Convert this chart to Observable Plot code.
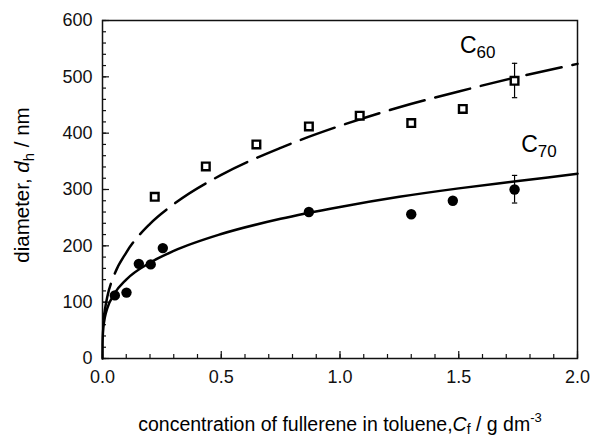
<!DOCTYPE html>
<html><head><meta charset="utf-8">
<script src="https://cdn.jsdelivr.net/npm/d3@7"></script>
<script src="https://cdn.jsdelivr.net/npm/@observablehq/plot@0.6"></script>
<style>body{margin:0;background:#fff} #chart svg{font-family:"Liberation Sans",Arial,sans-serif;}</style>
</head><body><div id="chart"></div>
<script>
// measured points
const c60X = [0.22, 0.435, 0.648, 0.869, 1.083, 1.30, 1.517, 1.735];
const c60Y = [287, 341, 380, 412, 431, 418, 443, 493];
const c70X = [0.052, 0.101, 0.153, 0.203, 0.254, 0.869, 1.30, 1.475, 1.735];
const c70Y = [112, 117, 168, 167, 196, 260, 256, 280, 300];
// error bars (at last point of each series)
const errX = [1.735, 1.735];
const errLo = [463, 276];
const errHi = [524, 325];
// fitted curves
const fit60X = [0.005, 0.01, 0.02, 0.05, 0.1, 0.2, 0.3, 0.5, 0.75, 1.0, 1.25, 1.5, 1.75, 2.0];
const fit60Y = [70, 86, 109, 149, 188, 239, 274, 326, 374, 413, 446, 474, 500, 523];
const fit70X = [0, 0.0002, 0.001, 0.004, 0.01, 0.02, 0.05, 0.1, 0.2, 0.3, 0.5, 0.75, 1.0, 1.25, 1.5, 1.75, 2.0];
const fit70Y = [0, 24, 38, 56, 73, 89, 115, 140, 170, 191, 221, 248, 269, 287, 302, 315, 328];
// ticks
const xMajor = [0, 0.5, 1.0, 1.5, 2.0];
const xMinor = d3.range(0, 2.0001, 0.1);
const yMajor = [0, 100, 200, 300, 400, 500, 600];
const yMinor = d3.range(0, 600.1, 20);
// series labels
const seriesNames = ["C", "C"];
const seriesSubs = ["60", "70"];
const labelX = [1.507, 1.765];
const labelY = [541, 366];

const pts60 = c60X.map((x, i) => ({x, y: c60Y[i]}));
const pts70 = c70X.map((x, i) => ({x, y: c70Y[i]}));
const line60 = fit60X.map((x, i) => ({x, y: fit60Y[i]}));
const line70 = fit70X.map((x, i) => ({x, y: fit70Y[i]}));
const errs = errX.map((x, i) => ({x, lo: errLo[i], hi: errHi[i]}));

const capSymbol = {draw(ctx, size) { const w = Math.sqrt(size) / 2; ctx.moveTo(-w, 0); ctx.lineTo(w, 0); }};

const plot = Plot.plot({
  width: 591, height: 437,
  marginLeft: 102, marginRight: 14, marginTop: 20, marginBottom: 79,
  style: {fontFamily: "Liberation Sans, Arial, sans-serif", fontSize: "18px", color: "#111", background: "#fff"},
  x: {domain: [0, 2], label: null},
  y: {domain: [0, 600], label: null},
  marks: [
    Plot.axisX({ticks: xMinor, tickSize: -4, tickFormat: () => "", strokeWidth: 1.2}),
    Plot.axisX({ticks: xMajor, tickSize: -7, tickFormat: () => "", strokeWidth: 1.2}),
    Plot.axisX({ticks: xMajor, tickSize: 0, tickPadding: 12, tickFormat: d3.format(".1f"), fontSize: 18}),
    Plot.axisY({ticks: yMinor, tickSize: -4, tickFormat: () => "", strokeWidth: 1.2}),
    Plot.axisY({ticks: yMajor, tickSize: 0, tickPadding: 10, tickFormat: d3.format("d"), fontSize: 18}),
    Plot.axisY({ticks: yMajor, tickSize: -7, tickFormat: () => "", strokeWidth: 1.2}),
    Plot.frame({stroke: "#111", strokeWidth: 1.5}),
    Plot.line(line60, {x: "x", y: "y", curve: "monotone-x", stroke: "#000", strokeWidth: 2.5, strokeDasharray: "36,11"}),
    Plot.line(line70, {x: "x", y: "y", curve: "monotone-x", stroke: "#000", strokeWidth: 2.5}),
    Plot.ruleX(errs, {x: "x", y1: "lo", y2: "hi", stroke: "#000", strokeWidth: 1.2}),
    Plot.dot(errs, {x: "x", y: "lo", symbol: capSymbol, r: 3, stroke: "#000", strokeWidth: 1.2}),
    Plot.dot(errs, {x: "x", y: "hi", symbol: capSymbol, r: 3, stroke: "#000", strokeWidth: 1.2}),
    Plot.dot(pts60, {x: "x", y: "y", symbol: "square", r: 4.3, stroke: "#000", strokeWidth: 2.4, fill: "#fff"}),
    Plot.dot(pts70, {x: "x", y: "y", symbol: "circle", r: 5.2, fill: "#000", stroke: "none"})
  ]
});
document.getElementById("chart").append(plot);

const svg = d3.select(plot);
const sx = plot.scale("x"), sy = plot.scale("y");

// series labels
seriesNames.forEach((n, i) => {
  const t = svg.append("text")
    .attr("x", sx.apply(labelX[i])).attr("y", sy.apply(labelY[i]))
    .attr("text-anchor", "start")
    .attr("font-size", 23).attr("fill", "#000");
  t.append("tspan").text(n);
  t.append("tspan").attr("dy", 5).attr("font-size", 17).text(seriesSubs[i]);
});

// y axis title
const yt = svg.append("text")
  .attr("transform", "translate(29,185) rotate(-90)")
  .attr("text-anchor", "middle").attr("font-size", 20.5).attr("fill", "#000");
yt.append("tspan").text("diameter, ");
yt.append("tspan").attr("font-style", "italic").text("d");
yt.append("tspan").attr("dy", 5).attr("font-size", 15).text("h");
yt.append("tspan").attr("dy", -5).text(" / nm");

// x axis title
const xt = svg.append("text")
  .attr("x", 340).attr("y", 431)
  .attr("text-anchor", "middle").attr("font-size", 19.5).attr("fill", "#000");
xt.append("tspan").text("concentration of fullerene in toluene,");
xt.append("tspan").attr("font-style", "italic").text("C");
xt.append("tspan").attr("dy", 3).attr("font-size", 14).text("f");
xt.append("tspan").attr("dy", -3).text(" / g dm");
xt.append("tspan").attr("dy", -9).attr("font-size", 13).text("-3");
</script>
</body></html>
